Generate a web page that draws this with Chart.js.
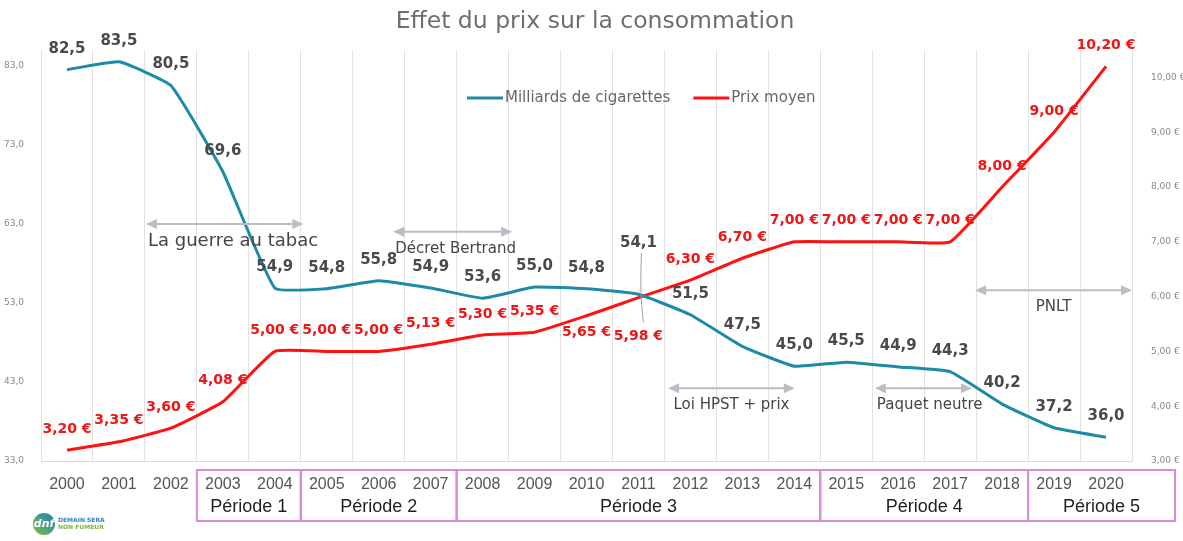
<!DOCTYPE html>
<html>
<head>
<meta charset="utf-8">
<script src="https://cdn.jsdelivr.net/npm/chart.js@4/dist/chart.umd.min.js"></script>
<style>
  html, body { margin: 0; background: #fff; }
  #wrap { width: 1183px; height: 541px; }
</style>
</head>
<body>
<div id="wrap"><canvas id="chart" width="1183" height="541"></canvas></div>
<script>
const years = ['2000', '2001', '2002', '2003', '2004', '2005', '2006', '2007', '2008', '2009', '2010',
               '2011', '2012', '2013', '2014', '2015', '2016', '2017', '2018', '2019', '2020'];
const cigarettes = [82.5, 83.5, 80.5, 69.6, 54.9, 54.8, 55.8, 54.9, 53.6, 55.0, 54.8,
                    54.1, 51.5, 47.5, 45.0, 45.5, 44.9, 44.3, 40.2, 37.2, 36.0];
const prixMoyen = [3.20, 3.35, 3.60, 4.08, 5.00, 5.00, 5.00, 5.13, 5.30, 5.35, 5.65,
                   5.98, 6.30, 6.70, 7.00, 7.00, 7.00, 7.00, 8.00, 9.00, 10.20];
const ticksGauche = [33, 43, 53, 63, 73, 83];
const ticksDroite = [3, 4, 5, 6, 7, 8, 9, 10];

const periodes = [
    { label: 'Période 1', from: '2003', to: '2004' },
    { label: 'Période 2', from: '2005', to: '2007' },
    { label: 'Période 3', from: '2008', to: '2014' },
    { label: 'Période 4', from: '2015', to: '2018' },
    { label: 'Période 5', from: '2019', to: '2020' }
];

// événements : flèche entre deux positions (index d'années), hauteur sur l'axe de gauche
const evenements = [
    { label: 'La guerre au tabac', from: 1.52, to: 4.55, y: 63.0, size: 18, align: 'left' },
    { label: 'Décret Bertrand', from: 6.28, to: 8.57, y: 62.0, size: 15, align: 'left' },
    { label: 'Loi HPST + prix', from: 11.57, to: 14.01, y: 42.2, size: 15, align: 'center' },
    { label: 'Paquet neutre', from: 15.55, to: 17.42, y: 42.2, size: 15, align: 'left' },
    { label: 'PNLT', from: 17.48, to: 20.5, y: 54.6, size: 15, align: 'center' }
];

// décalage vertical des étiquettes (par défaut au-dessus du point)
const decalageCig = { '2011': -51 };
const decalagePrix = { '2010': 17, '2011': 39 };

const fmt1 = v => v.toFixed(1).replace('.', ',');
const fmtEuro = v => v.toFixed(2).replace('.', ',') + ' €';

function drawArrowHead(ctx, x, y, dir) {
    ctx.beginPath();
    ctx.moveTo(x, y);
    ctx.lineTo(x - dir * 11, y - 5);
    ctx.lineTo(x - dir * 11, y + 5);
    ctx.closePath();
    ctx.fill();
}

const decorPlugin = {
    id: 'decor',
    afterDatasetsDraw(chart) {
        const ctx = chart.ctx;
        const xs = chart.scales.x;
        const yl = chart.scales.y;
        ctx.save();

        // étiquettes de valeurs
        ctx.textAlign = 'center';
        ctx.textBaseline = 'middle';
        ctx.font = 'bold 15px "DejaVu Sans"';
        chart.getDatasetMeta(0).data.forEach((pt, i) => {
            const dy = decalageCig[years[i]] ?? -21;
            ctx.fillStyle = '#4a4a4a';
            ctx.fillText(fmt1(cigarettes[i]), pt.x, pt.y + dy);
        });
        ctx.font = 'bold 14px "DejaVu Sans"';
        chart.getDatasetMeta(1).data.forEach((pt, i) => {
            const dy = decalagePrix[years[i]] ?? -21;
            ctx.fillStyle = '#f01414';
            ctx.fillText(fmtEuro(prixMoyen[i]), pt.x, pt.y + dy);
        });

        // trait de rappel 54,1 / 5,98 €
        const p11 = chart.getDatasetMeta(0).data[11];
        ctx.strokeStyle = '#a0a0a0';
        ctx.lineWidth = 1;
        ctx.beginPath();
        ctx.moveTo(p11.x + 3, p11.y - 41);
        ctx.quadraticCurveTo(p11.x + 1, p11.y, p11.x + 5, p11.y + 28);
        ctx.stroke();

        // flèches d'événements
        evenements.forEach(ev => {
            const x1 = xs.getPixelForValue(ev.from);
            const x2 = xs.getPixelForValue(ev.to);
            const y = yl.getPixelForValue(ev.y);
            ctx.strokeStyle = '#b9bdc5';
            ctx.fillStyle = '#b9bdc5';
            ctx.lineWidth = 2;
            ctx.beginPath();
            ctx.moveTo(x1 + 6, y);
            ctx.lineTo(x2 - 6, y);
            ctx.stroke();
            drawArrowHead(ctx, x1, y, -1);
            drawArrowHead(ctx, x2, y, 1);
            ctx.fillStyle = '#454545';
            ctx.font = ev.size + 'px "DejaVu Sans"';
            ctx.textBaseline = 'middle';
            if (ev.align === 'left') {
                ctx.textAlign = 'left';
                ctx.fillText(ev.label, x1 + 2, y + 17);
            } else {
                ctx.textAlign = 'center';
                ctx.fillText(ev.label, (x1 + x2) / 2, y + 17);
            }
        });

        // cadres des périodes
        const step = xs.getPixelForValue(1) - xs.getPixelForValue(0);
        ctx.strokeStyle = '#d98ad9';
        ctx.lineWidth = 2;
        periodes.forEach((p, k) => {
            const left = xs.getPixelForValue(years.indexOf(p.from)) - step / 2;
            let right = xs.getPixelForValue(years.indexOf(p.to)) + step / 2;
            if (k === periodes.length - 1) right = chart.width - 8;
            ctx.strokeRect(left, 470, right - left, 51);
            ctx.fillStyle = '#1e1e1e';
            ctx.font = '18px "Liberation Sans"';
            ctx.textAlign = 'center';
            ctx.textBaseline = 'middle';
            ctx.fillText(p.label, (left + right) / 2, 507);
        });

        // titre
        ctx.fillStyle = '#6e6e6e';
        ctx.font = '23.5px "DejaVu Sans"';
        ctx.textAlign = 'center';
        ctx.textBaseline = 'middle';
        ctx.fillText('Effet du prix sur la consommation', 595, 22);

        // légende
        ctx.font = '15px "DejaVu Sans"';
        ctx.textAlign = 'left';
        let lx = 467;
        chart.data.datasets.forEach(ds => {
            ctx.strokeStyle = ds.borderColor;
            ctx.lineWidth = 3;
            ctx.beginPath();
            ctx.moveTo(lx, 98);
            ctx.lineTo(lx + 36, 98);
            ctx.stroke();
            ctx.fillStyle = '#666';
            ctx.fillText(ds.label, lx + 38, 98);
            lx += 38 + ctx.measureText(ds.label).width + 23;
        });

        // logo
        const g = ctx.createLinearGradient(33, 535, 55, 513);
        g.addColorStop(0, '#7dc242');
        g.addColorStop(1, '#1b7fc4');
        ctx.fillStyle = g;
        ctx.beginPath();
        ctx.arc(44, 524, 11, 0, Math.PI * 2);
        ctx.fill();
        ctx.fillStyle = '#fff';
        ctx.font = 'bold italic 11px "DejaVu Sans"';
        ctx.textAlign = 'center';
        ctx.fillText('dnf', 44, 524);
        ctx.textAlign = 'left';
        ctx.font = 'bold 6px "DejaVu Sans"';
        ctx.fillStyle = '#2b86c8';
        ctx.fillText('DEMAIN SERA', 58, 520);
        ctx.fillStyle = '#7bb842';
        ctx.fillText('NON FUMEUR', 58, 527);

        ctx.restore();
    }
};

new Chart(document.getElementById('chart'), {
    type: 'line',
    data: {
        labels: years,
        datasets: [
            {
                label: 'Milliards de cigarettes',
                data: cigarettes,
                yAxisID: 'y',
                borderColor: '#1f8aa5',
                borderWidth: 3,
                pointRadius: 0,
                tension: 0.12
            },
            {
                label: 'Prix moyen',
                data: prixMoyen,
                yAxisID: 'y1',
                borderColor: '#ff1212',
                borderWidth: 3,
                pointRadius: 0,
                tension: 0.12
            }
        ]
    },
    options: {
        responsive: false,
        animation: false,
        devicePixelRatio: 1,
        layout: { padding: { top: 50, left: 0, right: 0, bottom: 0 } },
        plugins: {
            legend: { display: false },
            title: { display: false },
            tooltip: { enabled: false }
        },
        scales: {
            x: {
                offset: true,
                grid: { offset: true, color: '#e2e2e2', drawTicks: false },
                border: { color: '#dadada' },
                ticks: {
                    color: '#555',
                    font: { family: 'Liberation Sans', size: 16 },
                    padding: 14,
                    autoSkip: false,
                    maxRotation: 0
                },
                afterFit: s => { s.height = 80; }
            },
            y: {
                position: 'left',
                min: 33,
                max: 85,
                grid: { display: false },
                border: { display: false },
                ticks: {
                    color: '#888',
                    font: { family: 'DejaVu Sans', size: 9 },
                    padding: 9,
                    callback: v => fmt1(v)
                },
                afterBuildTicks: s => { s.ticks = ticksGauche.map(v => ({ value: v })); },
                afterFit: s => { s.width = 41; }
            },
            y1: {
                position: 'right',
                min: 3,
                max: 10.5,
                grid: { display: false },
                border: { display: false },
                ticks: {
                    color: '#888',
                    font: { family: 'DejaVu Sans', size: 9 },
                    padding: 11,
                    callback: v => fmtEuro(v)
                },
                afterBuildTicks: s => { s.ticks = ticksDroite.map(v => ({ value: v })); },
                afterFit: s => { s.width = 51; }
            }
        }
    },
    plugins: [decorPlugin]
});
</script>
</body>
</html>
